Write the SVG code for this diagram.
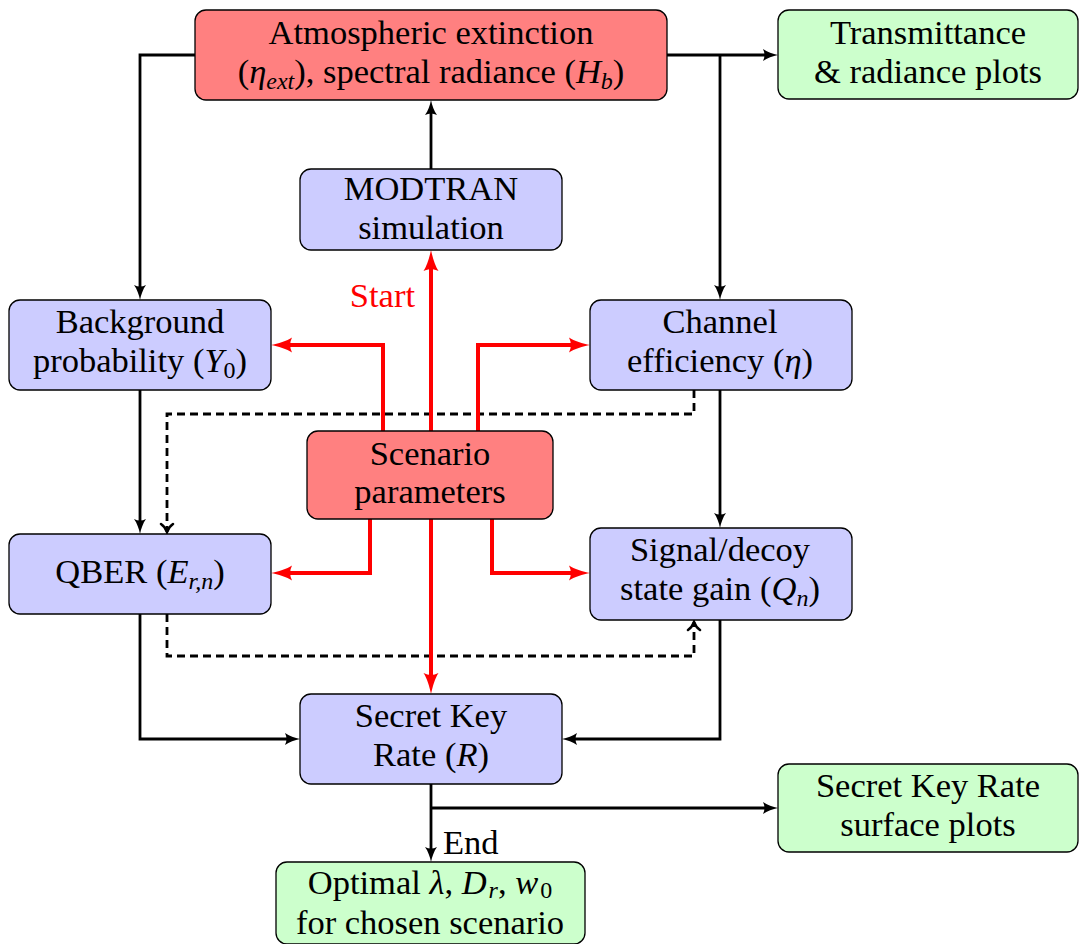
<svg xmlns="http://www.w3.org/2000/svg" width="1079" height="944" viewBox="0 0 1079 944">
<style>
.n{stroke:#000;stroke-width:1.3}
.r{fill:#ff8080}.b{fill:#ccccff}.g{fill:#ccffcc}
text{font-size:34.5px;fill:#000;text-anchor:middle}
.m{font-style:italic}
.s{font-size:24px;font-style:italic}
.k{fill:none;stroke:#000;stroke-width:2.8}
.d{fill:none;stroke:#000;stroke-width:2.8;stroke-dasharray:8 5}
.red{fill:none;stroke:#ff0000;stroke-width:4}
</style>
<defs>
<marker id="ak" markerUnits="userSpaceOnUse" viewBox="0 -7 16 14" refX="8" refY="0" markerWidth="16" markerHeight="14" orient="auto">
<path d="M15,0 C10,-1 4,-3 0,-6 C2,-2 2,2 0,6 C4,3 10,1 15,0 Z" fill="#000"/>
</marker>
<marker id="ar" markerUnits="userSpaceOnUse" viewBox="0 -8 22 16" refX="12" refY="0" markerWidth="22" markerHeight="16" orient="auto">
<path d="M21,0 C14,-1.5 5,-4 0,-7.5 C2.5,-2.5 2.5,2.5 0,7.5 C5,4 14,1.5 21,0 Z" fill="#ff0000"/>
</marker>
<marker id="ao" markerUnits="userSpaceOnUse" viewBox="-2 -8 13 16" refX="9" refY="0" markerWidth="13" markerHeight="16" orient="auto">
<path d="M1,-6 C3.5,-2.5 6,-1 9,0 C6,1 3.5,2.5 1,6" fill="none" stroke="#000" stroke-width="2.5" stroke-linecap="round"/>
</marker>
</defs>
<g id="connectors" font-family="Liberation Serif, serif">
<path class="k" d="M195,55 H140 V293" marker-end="url(#ak)"/>
<path class="k" d="M667,55 H771" marker-end="url(#ak)"/>
<path class="k" d="M720,55 V293" marker-end="url(#ak)"/>
<path class="k" d="M431,169 V107" marker-end="url(#ak)"/>
<path class="k" d="M140,390 V527" marker-end="url(#ak)"/>
<path class="k" d="M720,390 V521" marker-end="url(#ak)"/>
<path class="d" d="M694,390 V414 H167 V532" marker-end="url(#ao)"/>
<path class="d" d="M167,614 V656 H694 V622" marker-end="url(#ao)"/>
<path class="k" d="M140,614 V739 H293" marker-end="url(#ak)"/>
<path class="k" d="M720,620 V739 H569" marker-end="url(#ak)"/>
<path class="k" d="M431,784 V855" marker-end="url(#ak)"/>
<path class="k" d="M431,808 H771" marker-end="url(#ak)"/>
<path class="red" d="M431,431 V259" marker-end="url(#ar)"/>
<path class="red" d="M383,431 V345 H280" marker-end="url(#ar)"/>
<path class="red" d="M478,431 V345 H581" marker-end="url(#ar)"/>
<path class="red" d="M370,519 V573 H280" marker-end="url(#ar)"/>
<path class="red" d="M492,519 V573 H581" marker-end="url(#ar)"/>
<path class="red" d="M431,519 V685" marker-end="url(#ar)"/>
<text x="415" y="307" style="text-anchor:end;fill:#ff0000">Start</text>
<text x="443" y="854" style="text-anchor:start">End</text>
</g>
<g id="atm" font-family="Liberation Serif, serif">
<rect class="n r" x="195" y="10" width="472" height="90" rx="11"/>
<text x="431" y="44">Atmospheric extinction</text>
<text x="431" y="83">(<tspan class="m">η</tspan><tspan class="s" dy="6">ext</tspan><tspan dy="-6">), spectral radiance (</tspan><tspan class="m">H</tspan><tspan class="s" dy="6">b</tspan><tspan dy="-6">)</tspan></text>
</g>
<g id="trans" font-family="Liberation Serif, serif">
<rect class="n g" x="778" y="10" width="300" height="89" rx="11"/>
<text x="928" y="44">Transmittance</text>
<text x="928" y="83">&amp; radiance plots</text>
</g>
<g id="modtran" font-family="Liberation Serif, serif">
<rect class="n b" x="300" y="169" width="262" height="81" rx="11"/>
<text x="431" y="200">MODTRAN</text>
<text x="431" y="239">simulation</text>
</g>
<g id="background" font-family="Liberation Serif, serif">
<rect class="n b" x="9" y="300" width="262" height="90" rx="11"/>
<text x="140" y="333">Background</text>
<text x="140" y="372">probability (<tspan class="m">Y</tspan><tspan style="font-size:24px" dy="6">0</tspan><tspan dy="-6">)</tspan></text>
</g>
<g id="channel" font-family="Liberation Serif, serif">
<rect class="n b" x="590" y="300" width="262" height="90" rx="11"/>
<text x="720" y="333">Channel</text>
<text x="720" y="372">efficiency (<tspan class="m">η</tspan>)</text>
</g>
<g id="scenario" font-family="Liberation Serif, serif">
<rect class="n r" x="307" y="431" width="246" height="88" rx="11"/>
<text x="430" y="465">Scenario</text>
<text x="430" y="503">parameters</text>
</g>
<g id="qber" font-family="Liberation Serif, serif">
<rect class="n b" x="9" y="534" width="262" height="80" rx="11"/>
<text x="140" y="583">QBER (<tspan class="m">E</tspan><tspan class="s" dy="6">r,n</tspan><tspan dy="-6">)</tspan></text>
</g>
<g id="signal" font-family="Liberation Serif, serif">
<rect class="n b" x="590" y="528" width="262" height="92" rx="11"/>
<text x="720" y="561">Signal/decoy</text>
<text x="720" y="600">state gain (<tspan class="m">Q</tspan><tspan class="s" dy="6">n</tspan><tspan dy="-6">)</tspan></text>
</g>
<g id="skr" font-family="Liberation Serif, serif">
<rect class="n b" x="300" y="694" width="262" height="90" rx="11"/>
<text x="431" y="727">Secret Key</text>
<text x="431" y="766">Rate (<tspan class="m">R</tspan>)</text>
</g>
<g id="surface" font-family="Liberation Serif, serif">
<rect class="n g" x="778" y="764" width="300" height="88" rx="11"/>
<text x="928" y="797">Secret Key Rate</text>
<text x="928" y="836">surface plots</text>
</g>
<g id="optimal" font-family="Liberation Serif, serif">
<rect class="n g" x="276" y="862" width="309" height="82" rx="11"/>
<text x="430" y="894">Optimal <tspan class="m">λ</tspan>, <tspan class="m">D</tspan><tspan class="s" dx="2" dy="4">r</tspan><tspan dy="-4">, </tspan><tspan class="m">w</tspan><tspan style="font-size:24px" dx="2" dy="4">0</tspan></text>
<text x="430" y="934">for chosen scenario</text>
</g>
</svg>
